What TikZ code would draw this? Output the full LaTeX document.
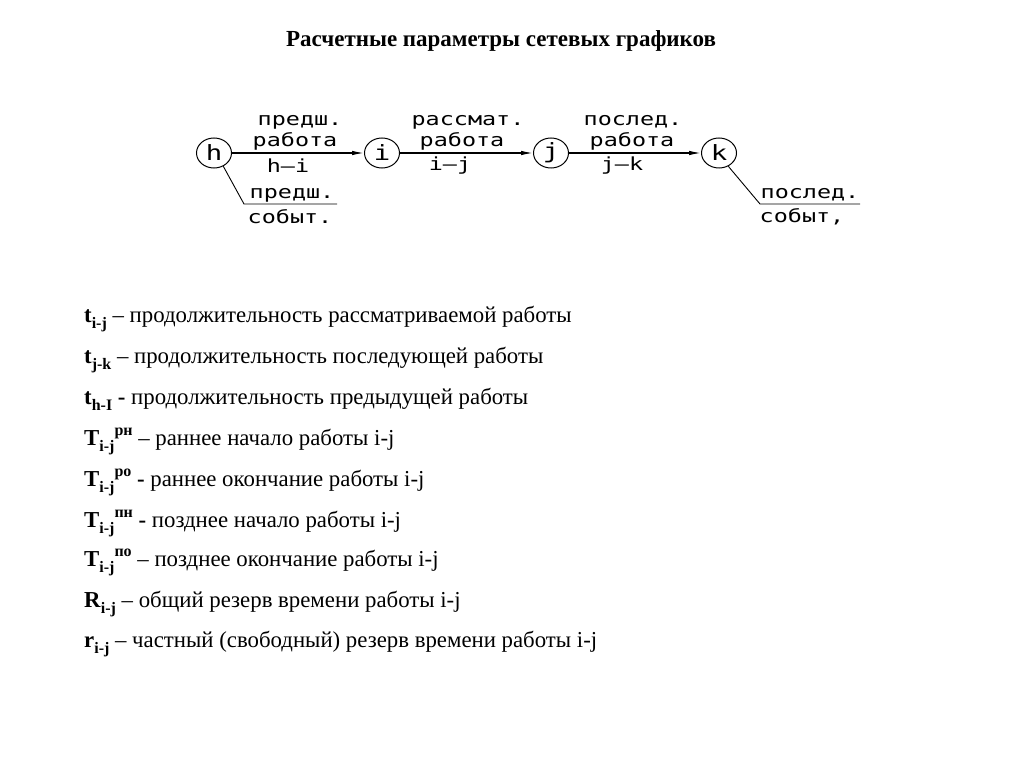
\documentclass[tikz,border=0pt]{standalone}
\usepackage{fontspec}
\setmainfont{Liberation Serif}
\newfontfamily\cad[FakeStretch=1.3]{DejaVu Sans Mono}
\usetikzlibrary{arrows.meta,shapes.geometric}
\newcommand\lsub[1]{\raisebox{-6pt}{\fontsize{16}{16}\selectfont\bfseries #1}}
\newcommand\lsup[1]{\raisebox{10pt}{\fontsize{16}{16}\selectfont\bfseries #1}}
\begin{document}
\begin{tikzpicture}[x=1pt,y=-1pt,
  ev/.style={draw, line width=1pt, ellipse, minimum width=35pt, minimum height=30pt, inner sep=0pt, font=\cad\fontsize{21}{21}\selectfont},
  wk/.style={line width=1.2pt, -{Latex[length=12pt,width=4.5pt]}},
  thin/.style={line width=0.9pt},
  cadlbl/.style={inner sep=0pt, font=\cad\fontsize{18}{18}\selectfont},
  item/.style={anchor=base west, inner sep=0pt, font=\fontsize{22.8}{22.8}\selectfont}
]
\useasboundingbox (0,0) rectangle (1024,767);
\node[anchor=base, inner sep=0pt, font=\bfseries\fontsize{23}{23}\selectfont] (title) at (501,47) {Расчетные параметры сетевых графиков};

\node[ev] (h) at (214,153) {h};
\node[ev] (i) at (382,153) {i};
\node[ev] (j) at (551,153) {j};
\node[ev] (k) at (719,153) {k};
\draw[wk] (h) -- (i);
\draw[wk] (i) -- (j);
\draw[wk] (j) -- (k);

\node[cadlbl] (l1a) at (300,122) {предш.};
\node[cadlbl] (l1b) at (295,141) {работа};
\node[cadlbl] (l1c) at (288,166) {h–i};
\node[cadlbl] (l2a) at (468,122) {рассмат.};
\node[cadlbl] (l2b) at (462,141) {работа};
\node[cadlbl] (l2c) at (450,166) {i–j};
\node[cadlbl] (l3a) at (633,122) {послед.};
\node[cadlbl] (l3b) at (632,141) {работа};
\node[cadlbl] (l3c) at (622,166) {j–k};

\coordinate (hb) at (244,204);
\coordinate (hbe) at (337,204);
\draw[thin] (h.-55) -- (hb) -- (hbe);
\node[cadlbl] (pe1) at (292,195) {предш.};
\node[cadlbl] (pe2) at (290,217) {событ.};

\coordinate (kb) at (760,204);
\coordinate (kbe) at (860,204);
\draw[thin] (k.-55) -- (kb) -- (kbe);
\node[cadlbl] (se1) at (810,195) {послед.};
\node[cadlbl] (se2) at (802,217) {событ,};

\node[item] (p1) at (84,322) {\textbf{t}\lsub{i-j} – продолжительность рассматриваемой работы};
\node[item] (p2) at (84,363) {\textbf{t}\lsub{j-k} – продолжительность последующей работы};
\node[item] (p3) at (84,404) {\textbf{t}\lsub{h-I} \textbf{-} продолжительность предыдущей работы};
\node[item] (p4) at (84,445) {\textbf{T}\lsub{i-j}\lsup{рн} – раннее начало работы i-j};
\node[item] (p5) at (84,486) {\textbf{T}\lsub{i-j}\lsup{ро} \textbf{-} раннее окончание работы i-j};
\node[item] (p6) at (84,527) {\textbf{T}\lsub{i-j}\lsup{пн} \textbf{-} позднее начало работы i-j};
\node[item] (p7) at (84,566) {\textbf{T}\lsub{i-j}\lsup{по} – позднее окончание работы i-j};
\node[item] (p8) at (84,607) {\textbf{R}\lsub{i-j} – общий резерв времени работы i-j};
\node[item] (p9) at (84,647) {\textbf{r}\lsub{i-j} – частный (свободный) резерв времени работы i-j};
\end{tikzpicture}
\end{document}
